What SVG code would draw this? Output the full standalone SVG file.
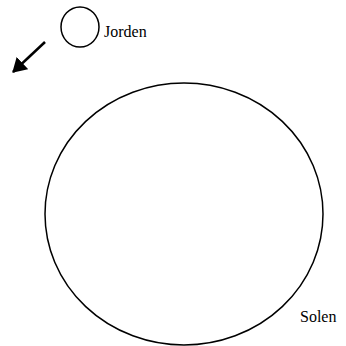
<svg xmlns="http://www.w3.org/2000/svg" width="346" height="346" viewBox="0 0 346 346">
<defs>
<marker id="ah" viewBox="0 0 14 17" refX="13" refY="8.5" markerWidth="14" markerHeight="17" markerUnits="userSpaceOnUse" orient="auto">
<path d="M0,0 L14,8.5 L0,17 z" fill="#000"/>
</marker>
</defs>
<style>
.shape{fill:none;stroke:#000;stroke-width:1.5}
.lbl{font-family:"Liberation Serif","Times New Roman",serif;font-size:16px;fill:#000}
</style>
<rect width="346" height="346" fill="#fff"/>
<g id="jorden">
<ellipse class="shape" cx="80" cy="27" rx="19" ry="20"/>
<text class="lbl" x="104" y="37">Jorden</text>
</g>
<g id="solen">
<ellipse class="shape" cx="184" cy="214" rx="139" ry="131"/>
<text class="lbl" x="300" y="322">Solen</text>
</g>
<g id="connectors">
<line x1="45" y1="42" x2="13" y2="72" stroke="#000" stroke-width="2.5" marker-end="url(#ah)"/>
</g>
</svg>
